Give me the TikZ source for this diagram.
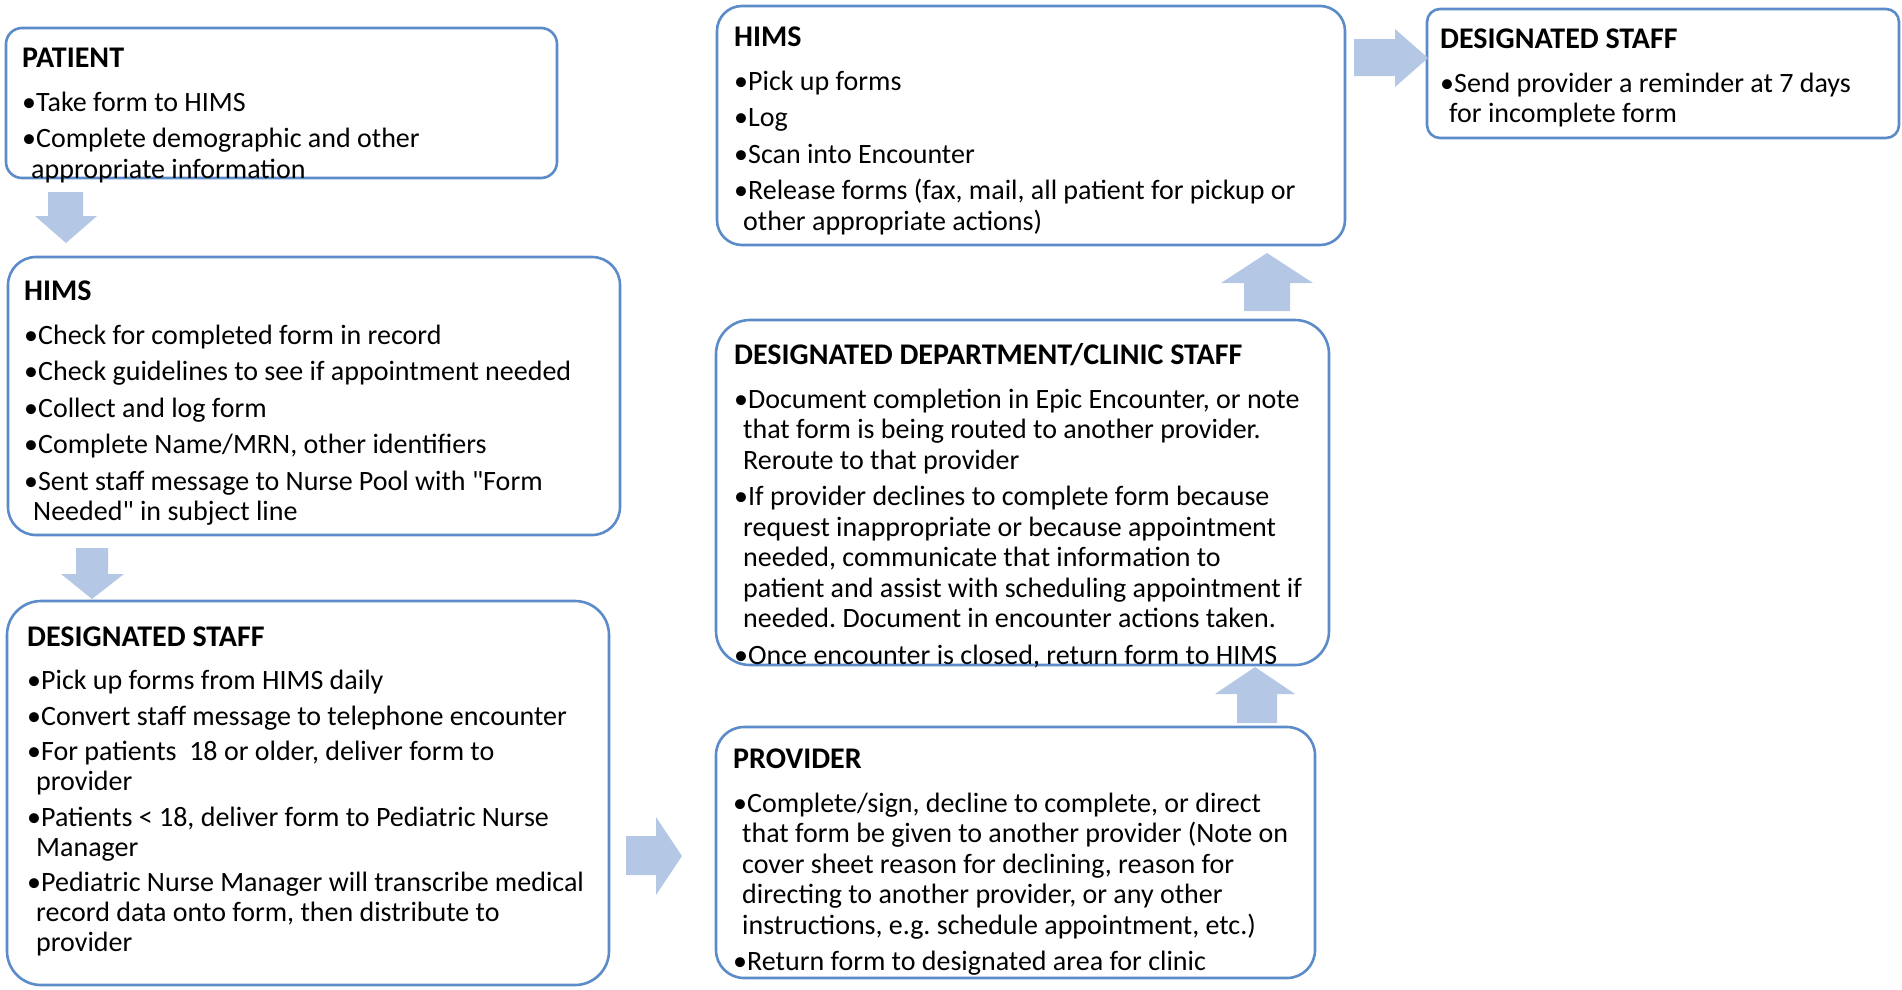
\documentclass[tikz,border=0pt]{standalone}
\usepackage{fontspec}
\setmainfont{Carlito}[Ligatures=TeXOff]
\definecolor{boxblue}{HTML}{5B8BC8}
\definecolor{arrowblue}{HTML}{B4C8E6}
\tikzset{
  flowbox/.style={draw=boxblue, line width=2.6pt, fill=white, anchor=north west, inner sep=0pt, outer sep=0pt},
  blockarrow/.style={fill=arrowblue, draw=none},
  boxtext/.style={anchor=north west, inner sep=0pt, align=left, font=\fontsize{28}{30.5}\selectfont\frenchspacing},
  tightbox/.style={boxtext, font=\fontsize{28}{30}\selectfont\frenchspacing},
}
\newcommand{\bul}{•}
\newcommand{\cnt}{\hspace*{9pt}}
\newcommand{\fst}{\rule{0pt}{24pt}}
\newcommand{\ttl}[1]{\fst{\fontsize{30}{30.5}\selectfont\textbf{#1}}\\[13.5pt]}
\newcommand{\nx}{\\[6pt]}
\newcommand{\nxs}{\\[5.5pt]}
\begin{document}
\begin{tikzpicture}[x=1pt,y=-1pt]
\useasboundingbox (0,0) rectangle (1902,989);
% boxes
\node[flowbox, rounded corners=16pt, minimum width=551pt, minimum height=150pt] (patientbox) at (6,28) {};
\node[flowbox, rounded corners=28pt, minimum width=612pt, minimum height=278pt] (himsbox) at (8,257) {};
\node[flowbox, rounded corners=34pt, minimum width=602pt, minimum height=384pt] (dsbox) at (7,601) {};
\node[flowbox, rounded corners=28pt, minimum width=599pt, minimum height=251pt] (provbox) at (716,727) {};
\node[flowbox, rounded corners=34pt, minimum width=613pt, minimum height=345pt] (deptbox) at (716,320) {};
\node[flowbox, rounded corners=25pt, minimum width=628pt, minimum height=239pt] (himstopbox) at (717,6) {};
\node[flowbox, rounded corners=13pt, minimum width=472pt, minimum height=129pt] (dsrbox) at (1427,9) {};
% block arrows
\fill[blockarrow] (48,192) -- (83,192) -- (83,216) -- (97,216) -- (66,243) -- (35,216) -- (48,216) -- cycle;
\fill[blockarrow] (76,548) -- (108,548) -- (108,574) -- (124,574) -- (92,599) -- (61,574) -- (76,574) -- cycle;
\fill[blockarrow] (626,836) -- (656,836) -- (656,817) -- (682,856) -- (656,895) -- (656,875) -- (626,875) -- cycle;
\fill[blockarrow] (1237,723) -- (1237,694) -- (1215,694) -- (1255,667) -- (1295,694) -- (1277,694) -- (1277,723) -- cycle;
\fill[blockarrow] (1244,311) -- (1244,283) -- (1221,283) -- (1267,253) -- (1313,283) -- (1290,283) -- (1290,311) -- cycle;
\fill[blockarrow] (1354,39) -- (1395,39) -- (1395,29) -- (1428,58) -- (1395,87) -- (1395,76) -- (1354,76) -- cycle;
% texts
\node[boxtext] (patienttext) at (22,43) {\ttl{PATIENT}
\bul Take form to HIMS\nx
\bul Complete demographic and other\\
\cnt appropriate information};
\node[boxtext] (himstext) at (24,276) {\ttl{HIMS}
\bul Check for completed form in record\nx
\bul Check guidelines to see if appointment needed\nx
\bul Collect and log form\nx
\bul Complete Name/MRN, other identifiers\nx
\bul Sent staff message to Nurse Pool with "Form\\
\cnt Needed" in subject line};
\node[tightbox] (dstext) at (27,622) {\ttl{DESIGNATED STAFF}
\bul Pick up forms from HIMS daily\nxs
\bul Convert staff message to telephone encounter\nxs
\bul For patients\ \ 18 or older, deliver form to\\
\cnt provider\nxs
\bul Patients < 18, deliver form to Pediatric Nurse\\
\cnt Manager\nxs
\bul Pediatric Nurse Manager will transcribe medical\\
\cnt record data onto form, then distribute to\\
\cnt provider};
\node[boxtext] (provtext) at (733,744) {\ttl{PROVIDER}
\bul Complete/sign, decline to complete, or direct\\
\cnt that form be given to another provider (Note on\\
\cnt cover sheet reason for declining, reason for\\
\cnt directing to another provider, or any other\\
\cnt instructions, e.g. schedule appointment, etc.)\nx
\bul Return form to designated area for clinic};
\node[boxtext] (depttext) at (734,340) {\ttl{DESIGNATED DEPARTMENT/CLINIC STAFF}
\bul Document completion in Epic Encounter, or note\\
\cnt that form is being routed to another provider.\\
\cnt Reroute to that provider\nx
\bul If provider declines to complete form because\\
\cnt request inappropriate or because appointment\\
\cnt needed, communicate that information to\\
\cnt patient and assist with scheduling appointment if\\
\cnt needed. Document in encounter actions taken.\nx
\bul Once encounter is closed, return form to HIMS};
\node[boxtext] (himstoptext) at (734,22) {\ttl{HIMS}
\bul Pick up forms\nx
\bul Log\nx
\bul Scan into Encounter\nx
\bul Release forms (fax, mail, all patient for pickup or\\
\cnt other appropriate actions)};
\node[boxtext] (dsrtext) at (1440,24) {\ttl{DESIGNATED STAFF}
\bul Send provider a reminder at 7 days\\
\cnt for incomplete form};
\end{tikzpicture}
\end{document}
